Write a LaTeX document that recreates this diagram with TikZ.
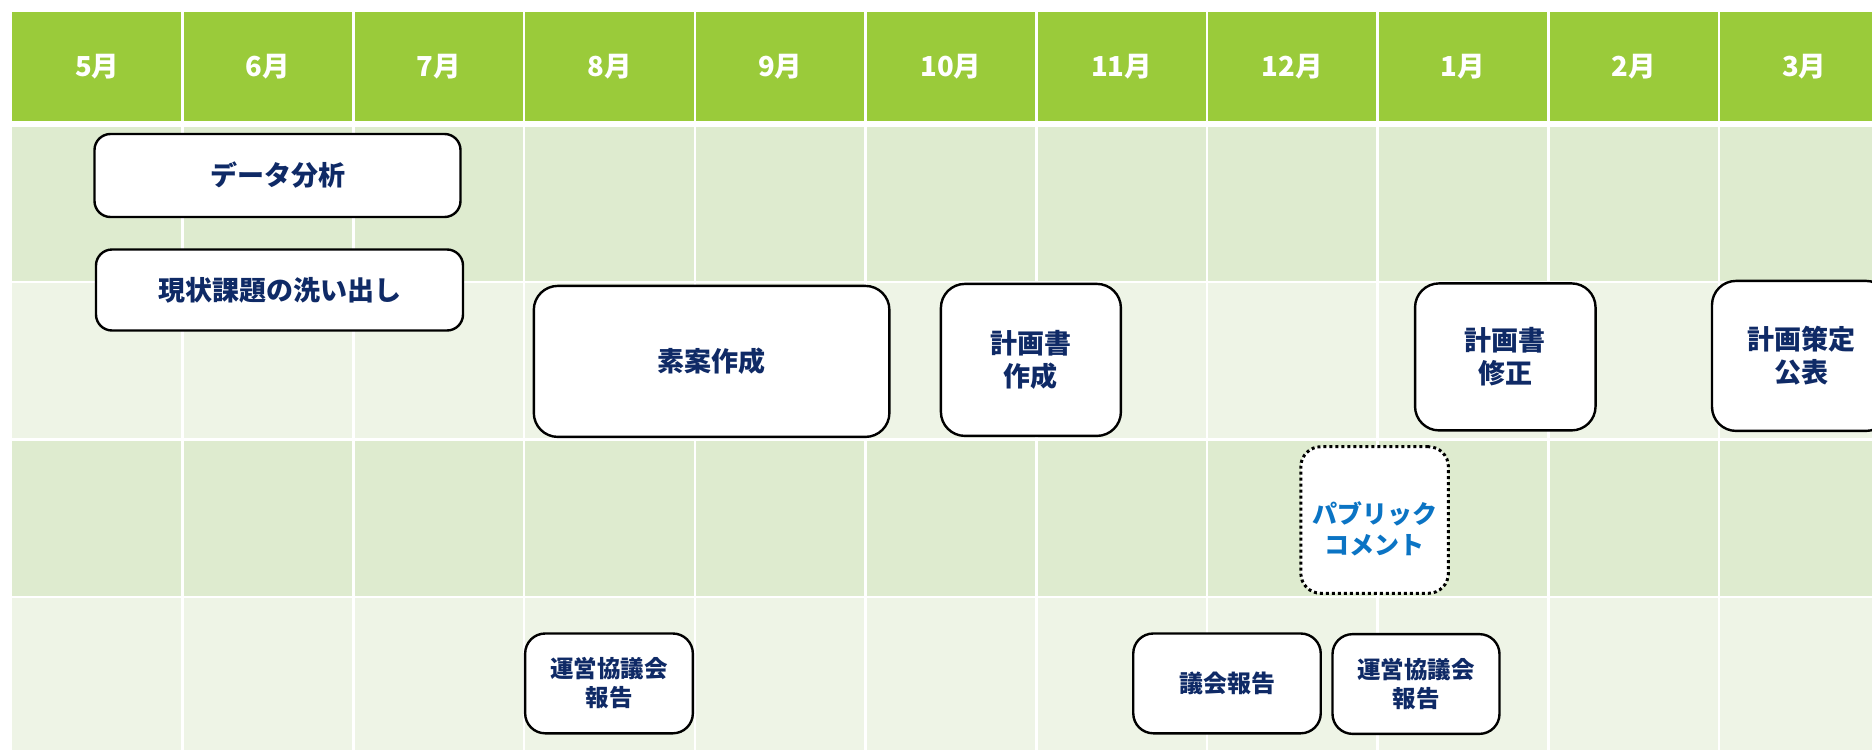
\documentclass[tikz,border=0pt]{standalone}
\usepackage{fontspec}
\setmainfont{Noto Sans CJK JP}
\definecolor{hdr}{HTML}{9ACB3A}
\definecolor{rowA}{HTML}{DEEBCF}
\definecolor{rowB}{HTML}{EEF4E6}
\definecolor{navy}{HTML}{0F2A66}
\definecolor{pcblue}{HTML}{0B74C4}
\tikzset{
  boxA/.style={draw=black, line width=2.4pt, fill=white, rounded corners=16pt, inner sep=0pt, text=navy, font=\bfseries\fontsize{27}{33}\selectfont, align=center},
  boxB/.style={boxA, rounded corners=24pt},
  boxS/.style={boxA, rounded corners=20pt, font=\bfseries\fontsize{23.5}{29}\selectfont},
  boxD/.style={draw=black, line width=3pt, dash pattern=on 3pt off 3pt, fill=white, rounded corners=20pt, inner sep=0pt},
  month/.style={text=white, font=\bfseries\fontsize{27.5}{30}\selectfont, inner sep=0pt},
  gridline/.style={white, line width=2.6pt}
}
\begin{document}
\begin{tikzpicture}[x=1pt,y=-1pt]
\useasboundingbox (0,0) rectangle (1872,750);
\clip (0,0) rectangle (1872,750);
\fill[white] (0,0) rectangle (1872,750);
% header and rows
\fill[hdr] (12,12) rectangle (1872,120.6);
\fill[rowA] (12,126.5) rectangle (1872,281.8);
\fill[rowB] (12,281.8) rectangle (1872,439.4);
\fill[rowA] (12,439.4) rectangle (1872,597);
\fill[rowB] (12,597) rectangle (1872,750);
\foreach \y in {281.8,439.4,597} \draw[gridline] (12,\y) -- (1872,\y);
\foreach \i in {1,...,10} \draw[gridline] ({12+170.7*\i},12) -- ({12+170.7*\i},750);
% month labels
\foreach \m [count=\i from 0] in {5,6,7,8,9,10,11,12,1,2,3}
  \node[month] (m\i) at ({12+170.7*(\i+0.5)},66.3) {\m 月};
% boxes
\node[boxA, minimum width=366pt, minimum height=83pt] (b1) at (277.5,175.5) {データ分析};
\node[boxA, minimum width=367pt, minimum height=81pt] (b2) at (279.5,290) {現状課題の洗い出し};
\node[boxB, minimum width=355.6pt, minimum height=151pt] (b3) at (711.6,361.4) {素案作成};
\node[boxB, minimum width=180pt, minimum height=152pt] (b4) at (1030.9,359.9) {計画書\\作成};
\node[boxB, minimum width=180.5pt, minimum height=147pt] (b5) at (1505.3,356.9) {計画書\\修正};
\node[boxB, minimum width=178pt, minimum height=150pt] (b6) at (1801,355.9) {計画策定\\公表};
\node[boxD, minimum width=147.6pt, minimum height=146.6pt] (b7) at (1374.6,520) {};
\node[text=pcblue, font=\bfseries\fontsize{25}{31}\selectfont, align=center, inner sep=0pt] (t7) at (1374.6,529) {パブリック\\コメント};
\node[boxS, minimum width=167.7pt, minimum height=99.8pt] (b8) at (609,683.4) {運営協議会\\報告};
\node[boxS, minimum width=187.5pt, minimum height=99.8pt, font=\bfseries\fontsize{24}{29}\selectfont] (b9) at (1227,683.4) {議会報告};
\node[boxS, minimum width=167pt, minimum height=99.7pt] (b10) at (1416,684) {運営協議会\\報告};
\end{tikzpicture}
\end{document}
